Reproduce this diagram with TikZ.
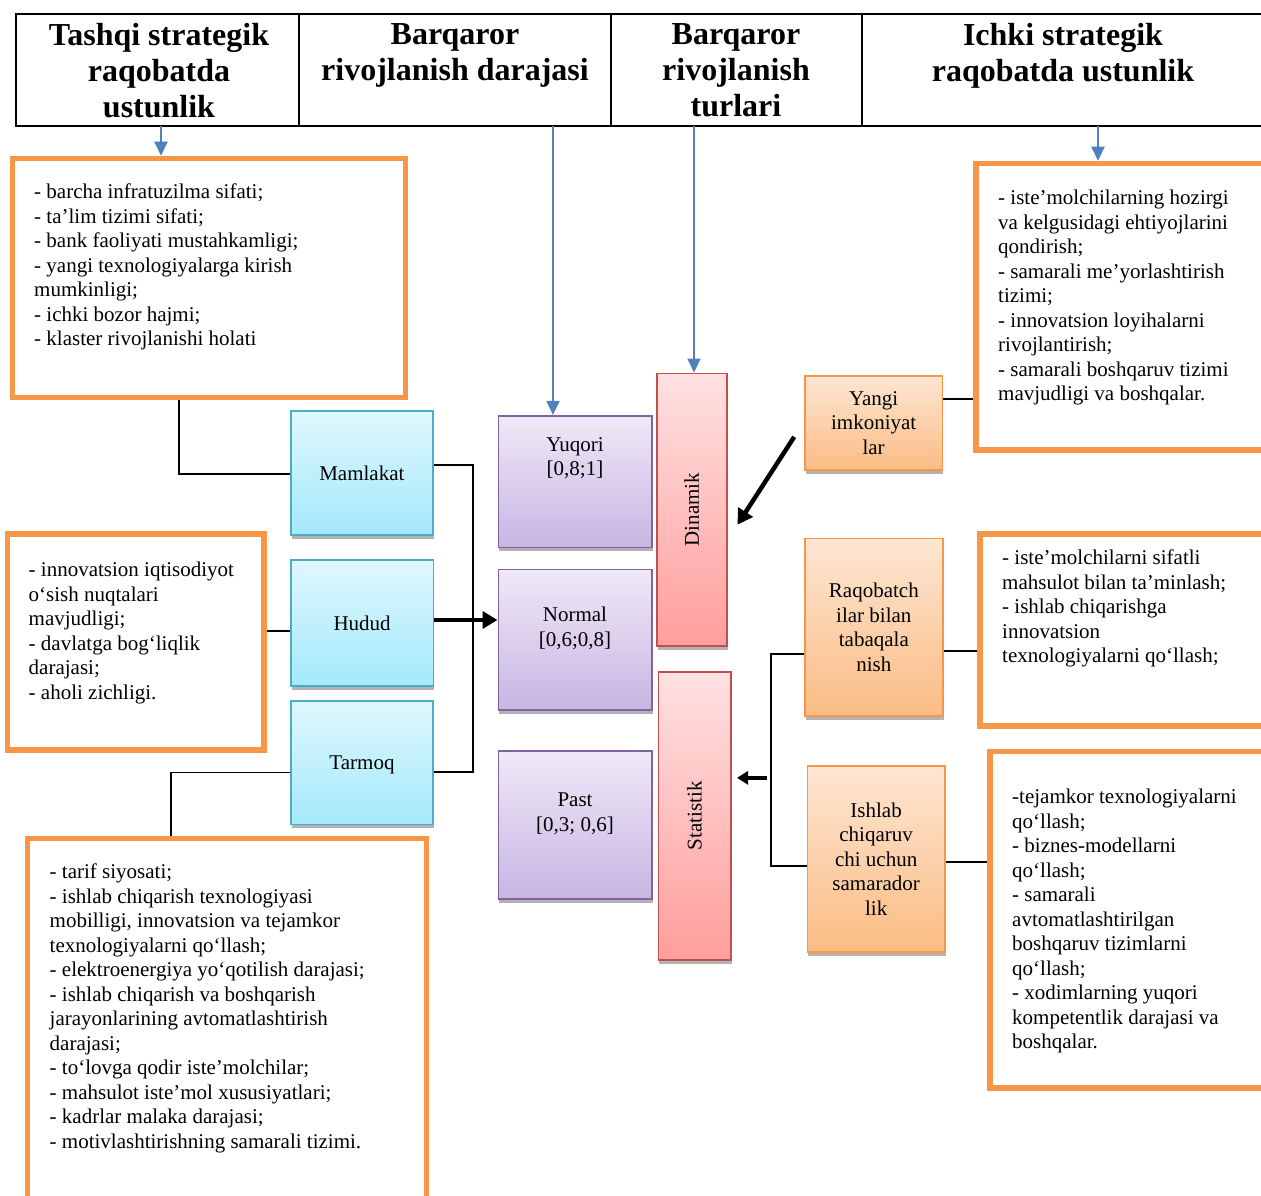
\documentclass[tikz,border=0pt]{standalone}
\usepackage{fontspec}
\setmainfont{Liberation Serif}
\usetikzlibrary{arrows.meta,shadows}
\definecolor{org}{HTML}{F79646}
\definecolor{blu}{HTML}{4F81BD}
\definecolor{cyb}{HTML}{4BACC6}
\definecolor{cyt}{HTML}{DFF7FD}
\definecolor{cyd}{HTML}{A3E9FB}
\definecolor{pub}{HTML}{8064A2}
\definecolor{put}{HTML}{EFE9F7}
\definecolor{pud}{HTML}{C8B5E3}
\definecolor{reb}{HTML}{C0504D}
\definecolor{ret}{HTML}{FFE1E1}
\definecolor{redd}{HTML}{FF9E9C}
\definecolor{ort}{HTML}{FDE6D3}
\definecolor{ord}{HTML}{FBBC84}
\newcommand\bodyfs{\fontsize{21}{24.5}\selectfont}
\newcommand\hdrfs{\fontsize{32}{36.2}\selectfont\bfseries}
\begin{document}
\begin{tikzpicture}[x=1pt,y=-1pt,
 hdrcell/.style={draw=black,line width=2.2pt,inner sep=0,outer sep=0},
 hdrtxt/.style={font=\hdrfs,align=center,inner sep=0,anchor=north},
 bigbox/.style={draw=org,line width=5.5pt,inner sep=0,fill=white},
 bodytxt/.style={font=\bodyfs,align=left,inner sep=0,anchor=north west},
 sbox/.style={inner sep=0,font=\bodyfs,align=center,line width=1.6pt,drop shadow={shadow xshift=0.8pt,shadow yshift=-4pt,fill=black,opacity=0.3}},
 cybox/.style={sbox,draw=cyb,top color=cyt,bottom color=cyd},
 pubox/.style={sbox,draw=pub,top color=put,bottom color=pud},
 rebox/.style={sbox,draw=reb,top color=ret,bottom color=redd},
 orbox/.style={sbox,draw=org,top color=ort,bottom color=ord},
 ctxt/.style={font=\bodyfs,align=center,inner sep=0,anchor=north},
 conn/.style={draw=black,line width=1.5pt},
 bluarr/.style={draw=blu,line width=2pt,-{Triangle[length=14pt,width=13pt]}},
 thickarr/.style={draw=black,line width=4.5pt,-{Triangle[length=15pt,width=17pt]}},
 smallarr/.style={draw=black,line width=4pt,-{Triangle[length=11pt,width=13pt]}},
]
\useasboundingbox (0,0) rectangle (1261,1196);

% header
\node[hdrcell,minimum width=283pt,minimum height=112pt] (h1) at (157.5,70) {};
\node[hdrcell,minimum width=312pt,minimum height=112pt] (h2) at (455,70) {};
\node[hdrcell,minimum width=251pt,minimum height=112pt] (h3) at (736.5,70) {};
\node[hdrcell,minimum width=438pt,minimum height=112pt] (h4) at (1081,70) {};
\node[hdrtxt] (t1) at (159,23) {Tashqi strategik\\raqobatda\\ustunlik};
\node[hdrtxt] (t2) at (455,23) {Barqaror\\rivojlanish darajasi};
\node[hdrtxt] (t3) at (736,23) {Barqaror\\rivojlanish\\turlari};
\node[hdrtxt] (t4) at (1063,23) {Ichki strategik\\raqobatda ustunlik};

% big orange boxes
\node[bigbox,minimum width=393.2pt,minimum height=239pt] (boxA) at (209.1,278) {};
\node[bigbox,minimum width=256.7pt,minimum height=216pt] (boxB) at (135.65,642) {};
\node[bigbox,minimum width=399pt,minimum height=391.5pt] (boxC) at (227,1034.25) {};
\node[bigbox,minimum width=324pt,minimum height=286.5pt] (boxD) at (1138,306.75) {};
\node[bigbox,minimum width=320pt,minimum height=191.8pt] (boxE) at (1140,629.9) {};
\node[bigbox,minimum width=310pt,minimum height=336.5pt] (boxF) at (1145,919.75) {};

\node[bodytxt] (txA) at (34,184) {- barcha infratuzilma sifati;\\- ta’lim tizimi sifati;\\- bank faoliyati mustahkamligi;\\- yangi texnologiyalarga kirish\\mumkinligi;\\- ichki bozor hajmi;\\- klaster rivojlanishi holati};
\node[bodytxt] (txB) at (28.5,562) {- innovatsion iqtisodiyot\\o‘sish nuqtalari\\mavjudligi;\\- davlatga bog‘liqlik\\darajasi;\\- aholi zichligi.};
\node[bodytxt] (txC) at (49.5,864) {- tarif siyosati;\\- ishlab chiqarish texnologiyasi\\mobilligi, innovatsion va tejamkor\\texnologiyalarni qo‘llash;\\- elektroenergiya yo‘qotilish darajasi;\\- ishlab chiqarish va boshqarish\\jarayonlarining avtomatlashtirish\\darajasi;\\- to‘lovga qodir iste’molchilar;\\- mahsulot iste’mol xususiyatlari;\\- kadrlar malaka darajasi;\\- motivlashtirishning samarali tizimi.};
\node[bodytxt] (txD) at (998,190) {- iste’molchilarning hozirgi\\va kelgusidagi ehtiyojlarini\\qondirish;\\- samarali me’yorlashtirish\\tizimi;\\- innovatsion loyihalarni\\rivojlantirish;\\- samarali boshqaruv tizimi\\mavjudligi va boshqalar.};
\node[bodytxt] (txE) at (1002,550) {- iste’molchilarni sifatli\\mahsulot bilan ta’minlash;\\- ishlab chiqarishga\\innovatsion\\texnologiyalarni qo‘llash;};
\node[bodytxt] (txF) at (1012,789) {-tejamkor texnologiyalarni\\qo‘llash;\\- biznes-modellarni\\qo‘llash;\\- samarali\\avtomatlashtirilgan\\boshqaruv tizimlarni\\qo‘llash;\\- xodimlarning yuqori\\kompetentlik darajasi va\\boshqalar.};

% cyan nodes
\node[cybox,minimum width=141.7pt,minimum height=124pt,text depth=0pt] (mam) at (361.85,473) {Mamlakat};
\node[cybox,minimum width=142.3pt,minimum height=126pt,text depth=0pt] (hud) at (362.15,623) {Hudud};
\node[cybox,minimum width=142pt,minimum height=123.3pt,text depth=0pt] (tar) at (362,762.65) {Tarmoq};

% purple nodes
\node[pubox,minimum width=153.4pt,minimum height=131.6pt] (yuq) at (575,481.5) {};
\node[pubox,minimum width=153.4pt,minimum height=140.7pt] (nor) at (575,639.65) {};
\node[pubox,minimum width=153.4pt,minimum height=148pt] (pas) at (575,825) {};
\node[ctxt] (yuqt) at (575,437) {Yuqori\\{[0,8;1]}};
\node[ctxt] (nort) at (575,607) {Normal\\{[0,6;0,8]}};
\node[ctxt] (past) at (575,793) {Past\\{[0,3; 0,6]}};

% red nodes
\node[rebox,minimum width=70pt,minimum height=272.7pt] (din) at (691.7,509.65) {\rotatebox{90}{Dinamik}};
\node[rebox,minimum width=72.4pt,minimum height=288.3pt] (sta) at (694.5,815.85) {\rotatebox{90}{Statistik}};

% orange small nodes
\node[orbox,minimum width=137.3pt,minimum height=94.3pt] (yan) at (873.65,422.85) {Yangi\\imkoniyat\\lar};
\node[orbox,minimum width=137.7pt,minimum height=177.7pt] (raq) at (873.85,627.15) {Raqobatch\\ilar bilan\\tabaqala\\nish};
\node[orbox,minimum width=137.7pt,minimum height=185.7pt] (ish) at (876.15,858.85) {Ishlab\\chiqaruv\\chi uchun\\samarador\\lik};

% blue arrows from header
\draw[bluarr] ([xshift=3.5pt]h1.south) -- ([xshift=3.5pt]h1.south |- boxA.north);
\draw[bluarr] ([xshift=98pt]h2.south) -- ([xshift=98pt]h2.south |- yuq.north);
\draw[bluarr] ([xshift=-42.5pt]h3.south) -- ([xshift=-42.5pt]h3.south |- din.north);
\draw[bluarr] ([xshift=17pt]h4.south) -- ([xshift=17pt]h4.south |- boxD.north);

% connectors left
\draw[conn] ([xshift=-30pt]boxA.south) |- ([yshift=-1pt]mam.west);
\draw[conn] ([yshift=8pt]mam.east) -- ++(39.5,0) |- ([yshift=-9.5pt]tar.east);
\draw[conn] ([yshift=-8pt]hud.west) -- ([yshift=-8pt]hud.west -| boxB.east);
\draw[conn] ([yshift=-10pt]tar.west) -| ([xshift=-56pt]boxC.north);
\draw[thickarr] ([yshift=3pt]hud.east) -- ([yshift=3pt]hud.east -| nor.west);

% connectors right
\draw[thickarr] ([xshift=-10pt,yshift=-14pt]yan.west) -- ([xshift=10pt,yshift=-15pt]din.east);
\draw[smallarr] ([xshift=35.5pt,yshift=38pt]sta.east) -- ([xshift=5.5pt,yshift=38pt]sta.east);
\draw[conn] ([yshift=-27pt]raq.west) -- ++(-33,0) |- ([yshift=-7pt]ish.west);
\draw[conn] ([yshift=24pt]yan.east) -- ([yshift=24pt]yan.east -| boxD.west);
\draw[conn] ([yshift=-24pt]raq.east) -- ([yshift=-24pt]raq.east -| boxE.west);
\draw[conn] ([yshift=-3pt]ish.east) -- ([yshift=-3pt]ish.east -| boxF.west);
\end{tikzpicture}
\end{document}
